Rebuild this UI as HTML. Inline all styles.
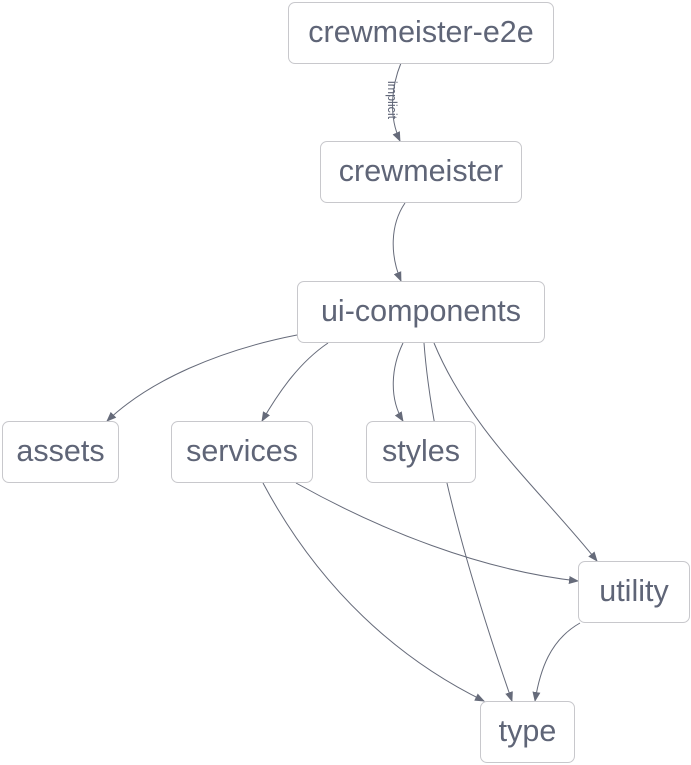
<!DOCTYPE html>
<html><head><style>
body{margin:0;background:#fff;width:691px;height:765px;overflow:hidden;font-family:"Liberation Sans","DejaVu Sans",sans-serif}
.n{position:absolute;box-sizing:border-box;border:1px solid #c8c8cc;border-radius:7px;background:#fff;color:#5f6577;font-size:30.5px;display:flex;align-items:center;justify-content:center;height:62px;padding-bottom:2px}
svg{position:absolute;left:0;top:0}
</style></head><body>
<svg width="691" height="765">
<defs><marker id="a" markerWidth="10" markerHeight="10" refX="9" refY="5" orient="auto" markerUnits="userSpaceOnUse"><path d="M0,1 L10,5 L0,9 z" fill="#666b7a"/></marker></defs>
<g fill="none" stroke="#666b7a" stroke-width="1" marker-end="url(#a)">
<path d="M401,63 C392,85 388,115 400,141"/>
<path d="M405,203 C390,225 390,255 401,281"/>
<path d="M297,335 C220,350 150,380 107,421"/>
<path d="M328,343 C300,362 280,390 262,421"/>
<path d="M403,343 C390,370 390,400 403,421"/>
<path d="M424,343 C432,450 470,580 512,701"/>
<path d="M434,343 C470,430 540,490 597,561"/>
<path d="M296,483 C380,530 480,570 578,581"/>
<path d="M263,483 C320,590 400,660 484,701"/>
<path d="M580,623 C550,640 540,670 535,701"/>
</g>
<text x="0" y="0" transform="translate(388,100) rotate(90)" font-size="12.5" fill="#5f6577" text-anchor="middle" font-family="Liberation Sans,sans-serif">implicit</text>
</svg>
<div class="n" style="left:288px;top:2px;width:266px">crewmeister-e2e</div>
<div class="n" style="left:320px;top:141px;width:202px">crewmeister</div>
<div class="n" style="left:297px;top:281px;width:248px">ui-components</div>
<div class="n" style="left:2px;top:421px;width:117px">assets</div>
<div class="n" style="left:171px;top:421px;width:142px">services</div>
<div class="n" style="left:366px;top:421px;width:110px">styles</div>
<div class="n" style="left:578px;top:561px;width:112px">utility</div>
<div class="n" style="left:480px;top:701px;width:95px">type</div>
</body></html>
